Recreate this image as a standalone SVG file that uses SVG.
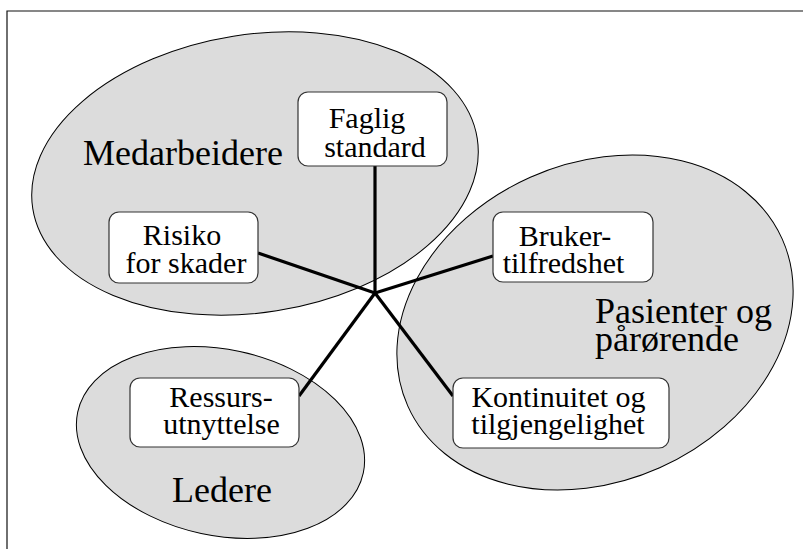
<svg xmlns="http://www.w3.org/2000/svg" width="803" height="549" viewBox="0 0 803 549">
  <style>
    .frame { fill: none; stroke: #111; stroke-width: 1.2; }
    .group { fill: #dcdcdc; stroke: #000; stroke-width: 1; }
    .box { fill: #fff; stroke: #333; stroke-width: 1.2; }
    .link { stroke: #000; stroke-width: 3.2; stroke-linecap: butt; fill: none; }
    text { font-family: Liberation Serif, Noto Serif, DejaVu Serif, Times New Roman, serif; fill: #000; }
    .boxtext { font-size: 30px; text-anchor: middle; }
    .grouptext { font-size: 36px; }
  </style>

  <!-- open frame: top and left edges -->
  <path class="frame" d="M7,549 V11 H803"/>

  <!-- stakeholder groups -->
  <g id="group-medarbeidere">
    <ellipse class="group" cx="255" cy="173.5" rx="225" ry="139" transform="rotate(-9 255 173.5)"/>
    <text class="grouptext" x="83" y="165">Medarbeidere</text>
  </g>
  <g id="group-pasienter">
    <ellipse class="group" cx="595" cy="322.5" rx="205" ry="159" transform="rotate(-24 595 322.5)"/>
    <text class="grouptext" x="595" y="323">Pasienter og</text>
    <text class="grouptext" x="595" y="351">pårørende</text>
  </g>
  <g id="group-ledere">
    <ellipse class="group" cx="220.5" cy="442.5" rx="146" ry="93" transform="rotate(12 220.5 442.5)"/>
    <text class="grouptext" x="172" y="502">Ledere</text>
  </g>

  <!-- spokes from the hub to each quality dimension -->
  <g id="connectors">
    <line class="link" x1="375" y1="166" x2="375" y2="293"/>
    <line class="link" x1="258" y1="253" x2="375" y2="293"/>
    <line class="link" x1="493" y1="256" x2="375" y2="293"/>
    <line class="link" x1="299" y1="396" x2="375" y2="293"/>
    <line class="link" x1="453" y1="396" x2="375" y2="293"/>
  </g>

  <!-- quality dimensions -->
  <g id="faglig-standard">
    <rect class="box" x="298" y="92" width="149" height="74" rx="10"/>
    <text class="boxtext" x="367" y="128">Faglig</text>
    <text class="boxtext" x="375" y="157">standard</text>
  </g>
  <g id="risiko-for-skader">
    <rect class="box" x="109" y="212" width="149" height="71" rx="10"/>
    <text class="boxtext" x="182" y="245">Risiko</text>
    <text class="boxtext" x="186" y="273">for skader</text>
  </g>
  <g id="brukertilfredshet">
    <rect class="box" x="493" y="212" width="160" height="70" rx="10"/>
    <text class="boxtext" x="565" y="246">Bruker-</text>
    <text class="boxtext" x="563.5" y="273">tilfredshet</text>
  </g>
  <g id="ressursutnyttelse">
    <rect class="box" x="130" y="378" width="169" height="69" rx="10"/>
    <text class="boxtext" x="221" y="407">Ressurs-</text>
    <text class="boxtext" x="221.5" y="434">utnyttelse</text>
  </g>
  <g id="kontinuitet">
    <rect class="box" x="453" y="378" width="216" height="70" rx="10"/>
    <text class="boxtext" x="558.5" y="407">Kontinuitet og</text>
    <text class="boxtext" x="558" y="434">tilgjengelighet</text>
  </g>
</svg>
